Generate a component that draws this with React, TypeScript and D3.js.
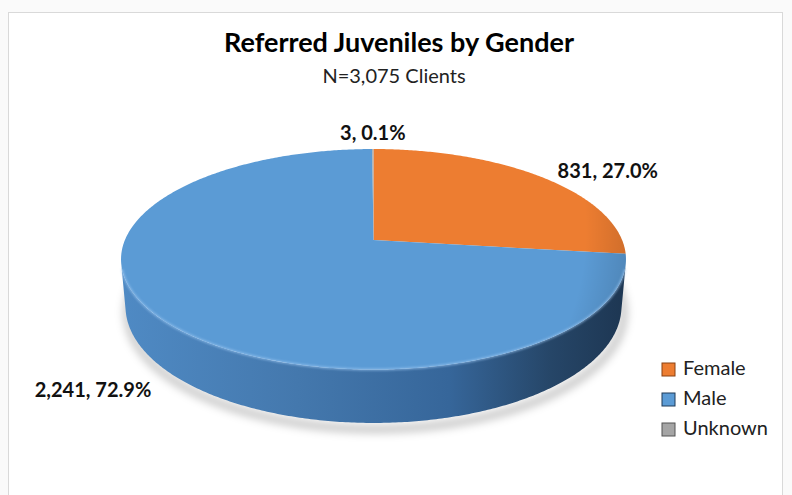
import React from "react";
import * as d3 from "d3";

const categories = ["Female", "Male", "Unknown"];
const counts = [831, 2241, 3];
const colors = ["#ED7D31", "#5B9BD5", "#A5A5A5"];
const sideColors = [
  ["#b85a1c", "#8a4212"],
  ["#4c86c0", "#1f3b58"],
  ["#8a8a8a", "#555555"],
];
const title = "Referred Juveniles by Gender";
const subtitle = "N=3,075 Clients";

const W = 792;
const H = 495;

// perspective pie geometry
const CX = 373.5;
const CY = 240;
const SIN_A = 0.43;
const COS_A = Math.sqrt(1 - SIN_A * SIN_A);
const DIST = 5.717 * COS_A;
const FOCAL = 1283;
const DEPTH = 0.2107;

function proj(phi: number, r: number, y: number): [number, number] {
  const X = r * Math.sin(phi);
  const Z = r * Math.cos(phi);
  const depth = DIST + Z * COS_A - y * SIN_A;
  const up = y * COS_A + Z * SIN_A;
  return [CX + (FOCAL * X) / depth, CY - (FOCAL * up) / depth];
}

function arcPoints(a0: number, a1: number, y: number): [number, number][] {
  const n = Math.max(2, Math.ceil(Math.abs(a1 - a0) / 0.01));
  const pts: [number, number][] = [];
  for (let i = 0; i <= n; i++) {
    pts.push(proj(a0 + ((a1 - a0) * i) / n, 1, y));
  }
  return pts;
}

const line = d3.line<[number, number]>();

export default function App() {
  const total = d3.sum(counts);
  const pie = d3
    .pie<number>()
    .sort(null)
    .startAngle(0)
    .endAngle(2 * Math.PI);
  const arcs = pie(counts);
  const fmtN = d3.format(",");
  const fmtP = d3.format(".1%");

  // visible side range
  const vis = Math.acos(-1 / (DIST * COS_A));
  const visA = vis;
  const visB = 2 * Math.PI - vis;

  const topPaths = arcs.map((a) => {
    const pts: [number, number][] = [[CX, CY], ...arcPoints(a.startAngle, a.endAngle, 0)];
    return line(pts) + "Z";
  });

  const sidePaths = arcs.map((a) => {
    const s = Math.max(a.startAngle, visA);
    const e = Math.min(a.endAngle, visB);
    if (e <= s) return null;
    const pts = [...arcPoints(s, e, 0), ...arcPoints(e, s, -DEPTH)];
    return line(pts) + "Z";
  });

  const shadowPath = line(arcPoints(visA - 0.3, visB + 0.3, -DEPTH)) as string;
  const rimPath = line(arcPoints(visA + 0.05, visB - 0.05, 0)) as string;

  // label placement (outside end, Excel best-fit style)
  const labelNudge: Record<string, [number, number]> = {
    Female: [67, -4],
    Male: [-70, 72],
    Unknown: [0, -14],
  };
  const labels = arcs.map((a, i) => {
    const mid = (a.startAngle + a.endAngle) / 2;
    const [px, py] = proj(mid, 1, 0);
    const [dx, dy] = labelNudge[categories[i]];
    return {
      x: px + dx,
      y: py + dy,
      text: `${fmtN(counts[i])}, ${fmtP(counts[i] / total)}`,
    };
  });

  const font = "Lato, 'Open Sans', sans-serif";

  return (
    <svg
      width={W}
      height={H}
      style={{ position: "absolute", left: 0, top: 0, background: "#fafafa" }}
    >
      <defs>
        <linearGradient id="sideBlue" gradientUnits="userSpaceOnUse" x1={121} x2={626} y1={0} y2={0}>
          <stop offset="0%" stopColor="#4f8ac4" />
          <stop offset="35%" stopColor="#4478ad" />
          <stop offset="65%" stopColor="#36669a" />
          <stop offset="85%" stopColor="#264668" />
          <stop offset="100%" stopColor="#1d3652" />
        </linearGradient>
        {sideColors.map((c, i) => (
          <linearGradient key={i} id={`side${i}`} gradientUnits="userSpaceOnUse" x1={121} x2={626} y1={0} y2={0}>
            <stop offset="0%" stopColor={c[0]} />
            <stop offset="100%" stopColor={c[1]} />
          </linearGradient>
        ))}
        <radialGradient id="topShade" gradientUnits="userSpaceOnUse" cx={CX - 40} cy={CY - 10} r={300}>
          <stop offset="84%" stopColor="#000" stopOpacity={0} />
          <stop offset="100%" stopColor="#000" stopOpacity={0.14} />
        </radialGradient>
        <filter id="blur" x="-20%" y="-50%" width="140%" height="200%">
          <feGaussianBlur stdDeviation={4} />
        </filter>
        <filter id="blur1" x="-10%" y="-50%" width="120%" height="200%">
          <feGaussianBlur stdDeviation={1} />
        </filter>
      </defs>
      <rect x={8.5} y={12.5} width={774} height={500} fill="#ffffff" stroke="#d9d9d9" />

      <text x={399} y={52} textAnchor="middle" fontFamily={font} fontWeight="bold" fontSize={27} fill="#000">
        {title}
      </text>
      <text x={394} y={83} textAnchor="middle" fontFamily={font} fontSize={20} fill="#222">
        {subtitle}
      </text>

      {/* shadow */}
      <path d={shadowPath} transform="translate(2,6)" fill="none" stroke="#000" strokeOpacity={0.22} strokeWidth={8} filter="url(#blur)" />

      {/* sides */}
      {sidePaths.map((d, i) =>
        d ? <path key={`s${i}`} d={d} fill={i === 1 ? "url(#sideBlue)" : `url(#side${i})`} /> : null
      )}

      {/* top */}
      {topPaths.map((d, i) => (
        <path key={`t${i}`} d={d} fill={colors[i]} />
      ))}
      <path d={line([[CX, CY], ...arcPoints(0, 2 * Math.PI, 0)]) + "Z"} fill="url(#topShade)" />
      <path d={rimPath} fill="none" stroke="#9cc8f2" strokeWidth={2} strokeOpacity={0.7} filter="url(#blur1)" />

      {labels.map((l, i) => (
        <text key={`l${i}`} x={l.x} y={l.y} textAnchor="middle" dominantBaseline="middle" fontFamily={font} fontWeight="bold" fontSize={20} fill="#111">
          {l.text}
        </text>
      ))}

      {/* legend */}
      {categories.map((c, i) => (
        <g key={`lg${i}`} transform={`translate(662, ${370 + i * 30})`}>
          <rect x={0} y={-7} width={13} height={13} fill={colors[i]} stroke={sideColors[i][1]} strokeWidth={1} />
          <text x={21} y={0} dominantBaseline="middle" fontFamily={font} fontSize={20} fill="#222">
            {c}
          </text>
        </g>
      ))}
    </svg>
  );
}
